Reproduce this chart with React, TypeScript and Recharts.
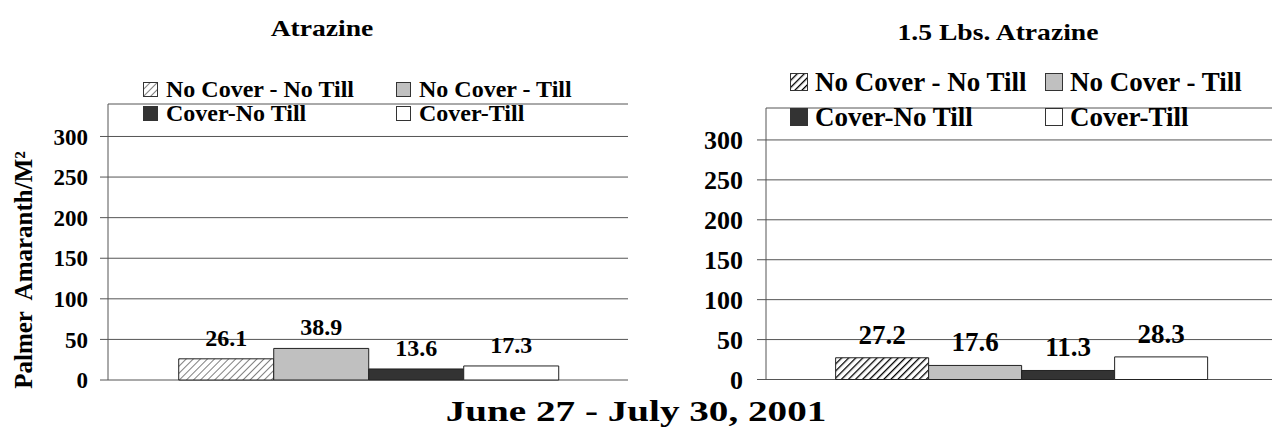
import { BarChart, Bar, XAxis, YAxis, CartesianGrid, LabelList } from "recharts";

const CATEGORY = ["June 27 - July 30, 2001"];
const SERIES = ["No Cover - No Till", "No Cover - Till", "Cover-No Till", "Cover-Till"];
const ATRAZINE = [26.1, 38.9, 13.6, 17.3];
const LBS_ATRAZINE = [27.2, 17.6, 11.3, 28.3];
const Y_TICKS = [0, 50, 100, 150, 200, 250, 300];
const Y_MAX = 340;

const FONT = "'Liberation Serif', 'Times New Roman', serif";
const KEYS = ["s0", "s1", "s2", "s3"];

const toRows = (values: number[]) => [
  Object.fromEntries([["name", CATEGORY[0]], ...values.map((v, i) => [KEYS[i], v])]),
];

function fillFor(i: number, hatch: string) {
  return [`url(#${hatch})`, "#c0c0c0", "#333333", "#ffffff"][i];
}

function HatchDefs({ id, heavy }: { id: string; heavy: boolean }) {
  return (
    <defs>
      <pattern id={id} patternUnits="userSpaceOnUse" width={5} height={5} patternTransform="rotate(45)">
        <rect width="5" height="5" fill="#fff" />
        <line x1="0" y1="0" x2="0" y2="5" stroke={heavy ? "#000" : "#3a3a3a"} strokeWidth={heavy ? 2.6 : 1.3} />
      </pattern>
    </defs>
  );
}

interface PanelProps {
  values: number[];
  hatch: string;
  heavy: boolean;
  width: number;
  top: number;
  bottom: number;
  axisWidth: number;
  right: number;
  tickFont: number;
  tickSize: number;
  tickMargin: number;
  labelFont: number;
  labelGap: number;
  yLabel?: string;
}

function Panel(p: PanelProps) {
  const rows = toRows(p.values);
  return (
    <BarChart
      width={p.width}
      height={438}
      data={rows}
      margin={{ top: p.top, right: p.right, bottom: p.bottom, left: 0 }}
      barCategoryGap="13.6%"
      barGap={0}
    >
      <HatchDefs id={p.hatch} heavy={p.heavy} />
      <CartesianGrid vertical={false} stroke="#555" strokeWidth={1} />
      <XAxis dataKey="name" hide />
      <YAxis
        width={p.axisWidth}
        domain={[0, Y_MAX]}
        ticks={Y_TICKS}
        interval={0}
        tickSize={p.tickSize}
        tickMargin={p.tickMargin}
        axisLine={{ stroke: "#555" }}
        tickLine={{ stroke: "#555" }}
        tick={{ fill: "#000", fontSize: p.tickFont, fontWeight: 700, fontFamily: FONT }}
        label={
          p.yLabel
            ? () => (
                <text
                  x={23}
                  y={270}
                  transform="rotate(-90, 23, 270)"
                  textAnchor="middle"
                  dominantBaseline="central"
                  fontFamily={FONT}
                  fontWeight={700}
                  fontSize={25}
                  fill="#000"
                  style={{ whiteSpace: "pre" }}
                >
                  {p.yLabel}
                </text>
              )
            : undefined
        }
      />
      {KEYS.map((k, i) => (
        <Bar
          key={k}
          dataKey={k}
          name={SERIES[i]}
          fill={fillFor(i, p.hatch)}
          stroke="#222"
          strokeWidth={1}
          isAnimationActive={false}
        >
          <LabelList
            dataKey={k}
            content={(lp: any) => (
              <text
                x={lp.x + lp.width / 2}
                y={lp.y - p.labelGap}
                textAnchor="middle"
                dominantBaseline="central"
                fontFamily={FONT}
                fontWeight={700}
                fontSize={p.labelFont}
                fill="#000"
              >
                {Number(lp.value).toFixed(1)}
              </text>
            )}
          />
        </Bar>
      ))}
    </BarChart>
  );
}

function Swatch({ i, size, hatch, heavy }: { i: number; size: number; hatch: string; heavy: boolean }) {
  return (
    <svg width={size} height={size} style={{ display: "block" }}>
      <HatchDefs id={hatch + "-lg"} heavy={heavy} />
      <rect
        x={0.5}
        y={0.5}
        width={size - 1}
        height={size - 1}
        fill={i === 0 ? `url(#${hatch}-lg)` : fillFor(i, hatch)}
        stroke="#333"
        strokeWidth={1}
      />
    </svg>
  );
}

function LegendBox(props: {
  left: number;
  top: number;
  col2: number;
  rowGap: number;
  font: number;
  swatch: number;
  textGap: number;
  hatch: string;
  heavy: boolean;
}) {
  return (
    <>
      {SERIES.map((s, i) => {
        const row = i < 2 ? 0 : 1;
        const col = i % 2;
        return (
          <div
            key={s}
            style={{
              position: "absolute",
              left: col === 0 ? props.left : props.col2,
              top: props.top + row * props.rowGap - props.font / 2,
              height: props.font,
              display: "flex",
              alignItems: "center",
              gap: props.textGap,
              fontFamily: FONT,
              fontWeight: 700,
              fontSize: props.font,
              whiteSpace: "nowrap",
              lineHeight: 1,
            }}
          >
            <Swatch i={i} size={props.swatch} hatch={props.hatch} heavy={props.heavy} />
            <span>{s}</span>
          </div>
        );
      })}
    </>
  );
}

const titleStyle = (x: number, y: number, size: number, sx: number): React.CSSProperties => ({
  position: "absolute",
  left: x,
  top: y,
  transform: `translate(-50%, -50%) scale(${sx}, 1)`,
  fontWeight: 700,
  fontSize: size,
  whiteSpace: "nowrap",
  lineHeight: 1,
});

export default function App() {
  return (
    <div
      style={{
        position: "absolute",
        left: 0,
        top: 0,
        width: 1272,
        height: 438,
        overflow: "hidden",
        background: "#fff",
        fontFamily: FONT,
      }}
    >
      <div style={{ position: "absolute", left: 0, top: 0 }}>
        <Panel
          values={ATRAZINE}
          hatch="hatchA"
          heavy={false}
          width={640}
          top={104}
          bottom={58}
          axisWidth={108}
          right={12}
          tickFont={23}
          tickSize={8}
          tickMargin={12}
          labelFont={24}
          labelGap={21}
          yLabel="Palmer  Amaranth/M²"
        />
      </div>
      <div style={{ position: "absolute", left: 640, top: 0 }}>
        <Panel
          values={LBS_ATRAZINE}
          hatch="hatchB"
          heavy={true}
          width={640}
          top={108}
          bottom={58.5}
          axisWidth={126}
          right={2}
          tickFont={26}
          tickSize={9}
          tickMargin={14}
          labelFont={27}
          labelGap={23}
        />
      </div>
      <LegendBox left={143} top={89} col2={396} rowGap={24} font={24} swatch={15} textGap={8} hatch="hatchA" heavy={false} />
      <LegendBox left={790} top={82} col2={1045} rowGap={35} font={27} swatch={18} textGap={7} hatch="hatchB" heavy={true} />
      <div style={titleStyle(322, 28, 24, 1.15)}>Atrazine</div>
      <div style={titleStyle(998, 32, 24, 1.15)}>1.5 Lbs. Atrazine</div>
      <div style={titleStyle(636, 411, 29, 1.35)}>{CATEGORY[0]}</div>
    </div>
  );
}
